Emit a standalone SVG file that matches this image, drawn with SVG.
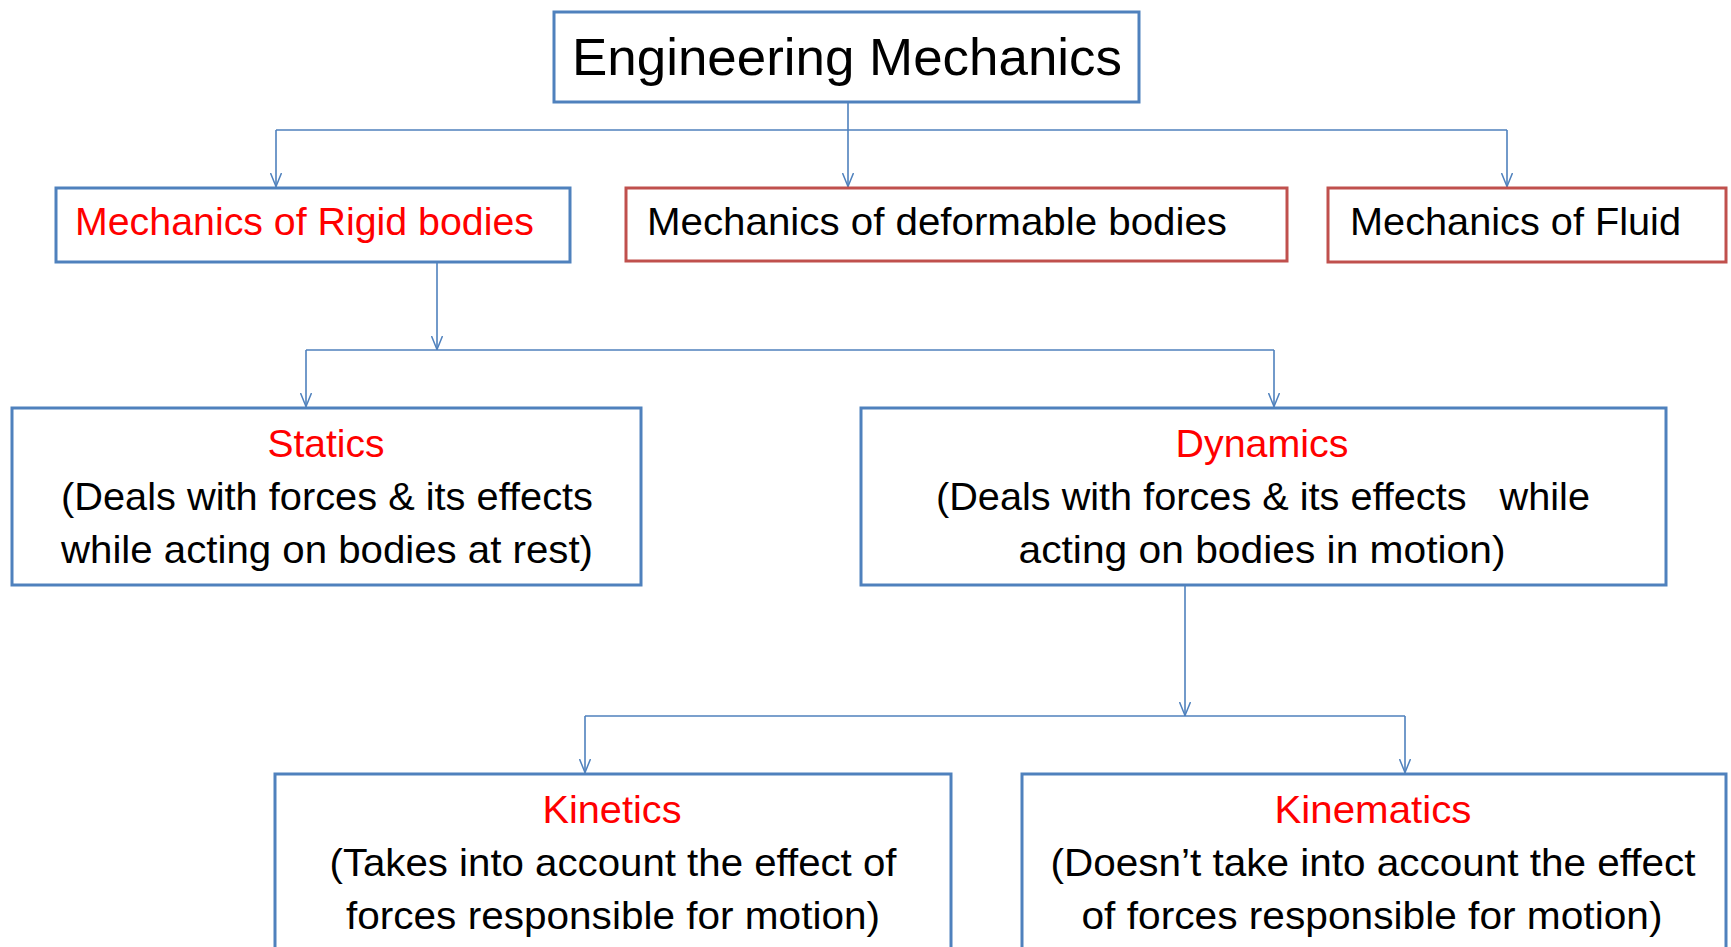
<svg xmlns="http://www.w3.org/2000/svg" width="1731" height="947" viewBox="0 0 1731 947">
<style>
.bx{fill:#fff;stroke:#4f81bd;stroke-width:3}
.rbx{fill:#fff;stroke:#c0504d;stroke-width:3}
text{font-family:"Liberation Sans",Arial,sans-serif;font-size:39px;fill:#000}
.red{fill:#ff0000}
.c{text-anchor:middle}
.ln{fill:none;stroke:#4f81bd;stroke-width:1.6}
</style>
<defs>
<marker id="ah" viewBox="0 0 14 12" refX="14" refY="6" markerWidth="14" markerHeight="12" markerUnits="userSpaceOnUse" orient="auto">
<path d="M0,0.5 L13.5,6 L0,11.5" fill="none" stroke="#4f81bd" stroke-width="1.5"/>
</marker>
</defs>
<rect width="1731" height="947" fill="#fff"/>
<g id="connectors">
<line class="ln" x1="848" y1="102" x2="848" y2="187" marker-end="url(#ah)"/>
<line class="ln" x1="276" y1="130" x2="1507" y2="130"/>
<line class="ln" x1="276" y1="130" x2="276" y2="187" marker-end="url(#ah)"/>
<line class="ln" x1="1507" y1="130" x2="1507" y2="187" marker-end="url(#ah)"/>
<line class="ln" x1="437" y1="262" x2="437" y2="350" marker-end="url(#ah)"/>
<line class="ln" x1="306" y1="350" x2="1274" y2="350"/>
<line class="ln" x1="306" y1="350" x2="306" y2="407" marker-end="url(#ah)"/>
<line class="ln" x1="1274" y1="350" x2="1274" y2="407" marker-end="url(#ah)"/>
<line class="ln" x1="1185" y1="585" x2="1185" y2="716" marker-end="url(#ah)"/>
<line class="ln" x1="585" y1="716" x2="1405" y2="716"/>
<line class="ln" x1="585" y1="716" x2="585" y2="773" marker-end="url(#ah)"/>
<line class="ln" x1="1405" y1="716" x2="1405" y2="773" marker-end="url(#ah)"/>
</g>
<g id="engineering-mechanics">
<rect class="bx" x="554" y="12" width="585" height="90"/>
<text class="c" x="847" y="75" style="font-size:52px" textLength="550" lengthAdjust="spacingAndGlyphs">Engineering Mechanics</text>
</g>
<g id="rigid">
<rect class="bx" x="56" y="188" width="514" height="74"/>
<text class="red" x="75" y="235" textLength="459" lengthAdjust="spacingAndGlyphs">Mechanics of Rigid bodies</text>
</g>
<g id="deformable">
<rect class="rbx" x="626" y="188" width="661" height="73"/>
<text x="647" y="235" textLength="580" lengthAdjust="spacingAndGlyphs">Mechanics of deformable bodies</text>
</g>
<g id="fluid">
<rect class="rbx" x="1328" y="188" width="398" height="74"/>
<text x="1350" y="235" textLength="331" lengthAdjust="spacingAndGlyphs">Mechanics of Fluid</text>
</g>
<g id="statics">
<rect class="bx" x="12" y="408" width="629" height="177"/>
<text class="c red" x="326" y="457" textLength="117" lengthAdjust="spacingAndGlyphs">Statics</text>
<text class="c" x="327" y="510" textLength="532" lengthAdjust="spacingAndGlyphs">(Deals with forces &amp; its effects</text>
<text class="c" x="327" y="563" textLength="532" lengthAdjust="spacingAndGlyphs">while acting on bodies at rest)</text>
</g>
<g id="dynamics">
<rect class="bx" x="861" y="408" width="805" height="177"/>
<text class="c red" x="1262" y="457" textLength="173" lengthAdjust="spacingAndGlyphs">Dynamics</text>
<text class="c" x="1263" y="510" textLength="654" lengthAdjust="spacingAndGlyphs" xml:space="preserve">(Deals with forces &amp; its effects   while</text>
<text class="c" x="1262" y="563" textLength="487" lengthAdjust="spacingAndGlyphs">acting on bodies in motion)</text>
</g>
<g id="kinetics">
<rect class="bx" x="275" y="774" width="676" height="190"/>
<text class="c red" x="612" y="823" textLength="139" lengthAdjust="spacingAndGlyphs">Kinetics</text>
<text class="c" x="613" y="876" textLength="567" lengthAdjust="spacingAndGlyphs">(Takes into account the effect of</text>
<text class="c" x="613" y="929" textLength="534" lengthAdjust="spacingAndGlyphs">forces responsible for motion)</text>
</g>
<g id="kinematics">
<rect class="bx" x="1022" y="774" width="704" height="190"/>
<text class="c red" x="1373" y="823" textLength="197" lengthAdjust="spacingAndGlyphs">Kinematics</text>
<text class="c" x="1373" y="876" textLength="645" lengthAdjust="spacingAndGlyphs">(Doesn’t take into account the effect</text>
<text class="c" x="1372" y="929" textLength="581" lengthAdjust="spacingAndGlyphs">of forces responsible for motion)</text>
</g>
</svg>
